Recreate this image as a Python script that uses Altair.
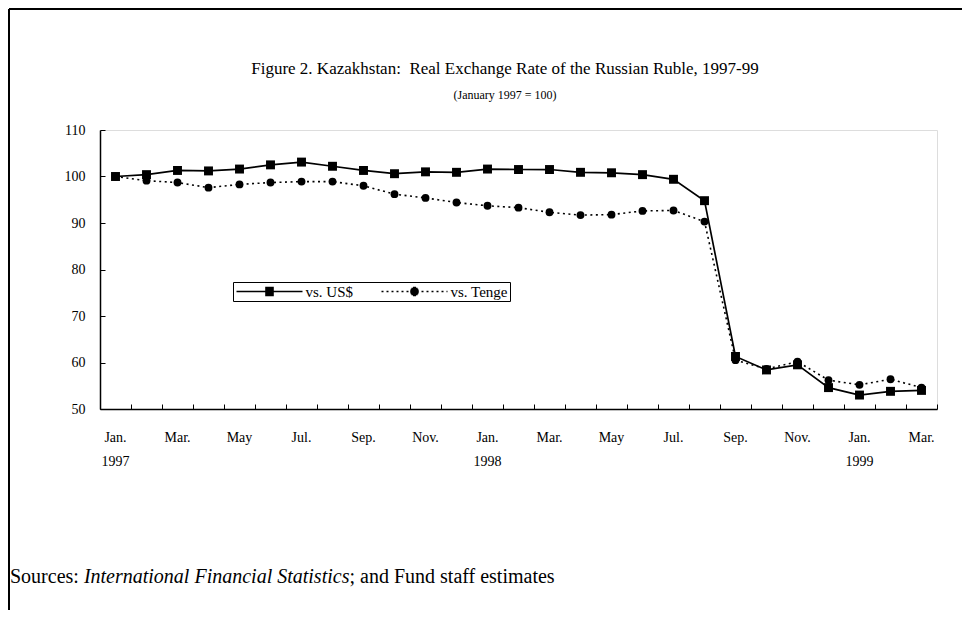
import math
import altair as alt
import pandas as pd

# ---- data ----
months = ["1997-01", "1997-02", "1997-03", "1997-04", "1997-05", "1997-06",
          "1997-07", "1997-08", "1997-09", "1997-10", "1997-11", "1997-12",
          "1998-01", "1998-02", "1998-03", "1998-04", "1998-05", "1998-06",
          "1998-07", "1998-08", "1998-09", "1998-10", "1998-11", "1998-12",
          "1999-01", "1999-02", "1999-03"]
vs_usd = [100.0, 100.4, 101.3, 101.2, 101.6, 102.5, 103.1, 102.2, 101.3, 100.6,
          101.0, 100.9, 101.6, 101.5, 101.5, 100.9, 100.8, 100.4, 99.4, 94.8,
          61.3, 58.4, 59.5, 54.6, 53.0, 53.8, 54.0]
vs_tenge = [100.0, 99.1, 98.7, 97.6, 98.3, 98.7, 98.9, 98.9, 98.0, 96.2,
            95.4, 94.4, 93.7, 93.3, 92.3, 91.7, 91.8, 92.6, 92.7, 90.3,
            60.5, 58.6, 60.2, 56.2, 55.2, 56.4, 54.6]
tick_months = ["1997-01", "1997-03", "1997-05", "1997-07", "1997-09", "1997-11",
               "1998-01", "1998-03", "1998-05", "1998-07", "1998-09", "1998-11",
               "1999-01", "1999-03"]
tick_text = ["Jan.", "Mar.", "May", "Jul.", "Sep.", "Nov.",
             "Jan.", "Mar.", "May", "Jul.", "Sep.", "Nov.",
             "Jan.", "Mar."]
year_text = {"1997-01": "1997", "1998-01": "1998", "1999-01": "1999"}
series_names = ["vs. US$", "vs. Tenge"]
y_ticks = [50, 60, 70, 80, 90, 100, 110]
title_text = "Figure 2. Kazakhstan:\u00a0 Real Exchange Rate of the Russian Ruble, 1997-99"
subtitle_text = "(January 1997 = 100)"
source_parts = ["Sources: ", "International Financial Statistics", "; and Fund staff estimates"]

df = pd.DataFrame({"month": months, "usd": vs_usd, "tenge": vs_tenge})

FONT = "Liberation Serif"
W, H = 837, 279          # plot area
PAD_L, PAD_T = 92, 122   # plot origin inside the svg (page 100,130)

# label expression: month label, plus year on a second line for January
parts = []
for m, t in zip(tick_months, tick_text):
    if m in year_text:
        parts.append(f"datum.value == '{m}' ? ['{t}', '{year_text[m]}']")
    else:
        parts.append(f"datum.value == '{m}' ? '{t}'")
label_expr = " : ".join(parts) + " : ''"

xscale = alt.Scale(type="band", domain=months, paddingInner=0, paddingOuter=0)
yscale = alt.Scale(domain=[50, 110], nice=False, zero=False)

x_main_axis = alt.Axis(title=None, labelExpr=label_expr, ticks=False, tickSize=0,
                       labelAngle=0, labelFont=FONT, labelFontSize=14,
                       labelColor="black", labelPadding=21, labelLineHeight=24,
                       labelBaseline="top", domain=True, domainColor="black",
                       domainWidth=1.5, grid=False, labelOverlap=False, orient="bottom")
y_main_axis = alt.Axis(title=None, values=y_ticks, ticks=False, tickSize=0,
                       labelFont=FONT, labelFontSize=14, labelColor="black",
                       labelPadding=15, domain=True, domainColor="black",
                       domainWidth=1.5, grid=False, orient="left")
x_tick_axis = alt.Axis(title=None, labels=False, domain=False, ticks=True,
                       tickBand="extent", tickSize=5, tickColor="black",
                       tickWidth=1, offset=-5, grid=False, orient="bottom")
y_tick_axis = alt.Axis(title=None, labels=False, domain=False, ticks=True,
                       values=y_ticks, tickSize=5, tickColor="black",
                       tickWidth=1, offset=-5, grid=False, orient="left")

base = alt.Chart(df)

usd_line = base.mark_line(color="black", strokeWidth=1.7).encode(
    x=alt.X("month:N", scale=xscale, sort=months, axis=x_main_axis),
    y=alt.Y("usd:Q", scale=yscale, axis=y_main_axis),
)
tenge_line = base.mark_line(color="black", strokeWidth=1.6, strokeDash=[2, 3.5]).encode(
    x=alt.X("month:N", scale=xscale, sort=months, axis=None),
    y=alt.Y("tenge:Q", scale=yscale, axis=None),
)
usd_pts = base.mark_point(shape="square", filled=True, color="black", size=80, opacity=1).encode(
    x=alt.X("month:N", scale=xscale, sort=months, axis=x_tick_axis),
    y=alt.Y("usd:Q", scale=yscale, axis=y_tick_axis),
)
tenge_pts = base.mark_point(shape="circle", filled=True, color="black", size=62, opacity=1).encode(
    x=alt.X("month:N", scale=xscale, sort=months, axis=None),
    y=alt.Y("tenge:Q", scale=yscale, axis=None),
)

# ---- legend symbols: line sample + marker, drawn with strokes only (px -> unit coords) ----
R = 7.0          # sqrt(symbolSize)/2
L = 66.0         # length of the line sample in px
X0 = -6.0        # line start relative to the symbol centre
MID = X0 + L / 2


def u(v):
    return f"{v / R:.3f}"


def hline(x0, x1, y):
    return f"M{u(x0)},{u(y)}H{u(x1)}"


usd_path = hline(X0, X0 + L, 0)
for yy in range(-4, 5):
    usd_path += hline(MID - 4.3, MID + 4.3, yy)

tenge_path = ""
xx = X0
while xx < X0 + L:
    tenge_path += hline(xx, min(xx + 2.0, X0 + L), 0)
    xx += 5.0
rc = 4.3
for yy in range(-4, 5):
    hw = math.sqrt(max(rc * rc - yy * yy, 0.5))
    tenge_path += hline(MID - hw, MID + hw, yy)

LBL_FS = 15
legend_layer = alt.Chart(alt.Data(values=[])).mark_point(
    filled=False, color="black", strokeWidth=1.5, opacity=1
).encode(
    x=alt.X("month:N", scale=xscale, axis=None),
    y=alt.Y("v:Q", scale=yscale, axis=None),
    shape=alt.Shape("s:N",
                    scale=alt.Scale(domain=series_names, range=[usd_path, tenge_path]),
                    legend=alt.Legend(title=None, orient="none", legendX=133, legendY=152,
                                      direction="horizontal", columns=2,
                                      symbolSize=(2 * R) ** 2, symbolStrokeWidth=1.5,
                                      symbolStrokeColor="black",
                                      labelFont=FONT, labelFontSize=LBL_FS, labelColor="black",
                                      labelOffset=int(X0 + L + 8 + 3 - 16), columnPadding=25,
                                      padding=1.5, strokeColor="black", fillColor="white",
                                      symbolOpacity=1)),
)

one = alt.Data(values=[{"a": 1}])
# outer frame of the figure (top and left edges)
frame_top = alt.Chart(one).mark_rule(color="black", strokeWidth=2).encode(
    x=alt.value(-PAD_L + 1), x2=alt.value(W + 40), y=alt.value(-PAD_T + 1))
frame_left = alt.Chart(one).mark_rule(color="black", strokeWidth=2).encode(
    x=alt.value(-PAD_L + 1), y=alt.value(-PAD_T + 1), y2=alt.value(H + 210))

# title and subtitle
title_mark = alt.Chart(one).mark_text(font=FONT, fontSize=17, align="center",
                                      baseline="alphabetic", color="black").encode(
    x=alt.value(405), y=alt.value(-56), text=alt.value(title_text))
subtitle_mark = alt.Chart(one).mark_text(font=FONT, fontSize=12, align="center",
                                         baseline="alphabetic", color="black").encode(
    x=alt.value(405), y=alt.value(-31), text=alt.value(subtitle_text))

# sources note (regular + italic + regular)
SRC_FS = 20
src_y = 447
w1 = 3.694 * SRC_FS
w2 = 13.28 * SRC_FS
src_x0 = -90
src1 = alt.Chart(one).mark_text(font=FONT, fontSize=SRC_FS, align="left", color="black").encode(
    x=alt.value(src_x0), y=alt.value(src_y), text=alt.value(source_parts[0]))
src2 = alt.Chart(one).mark_text(font=FONT, fontSize=SRC_FS, align="left", fontStyle="italic",
                                color="black").encode(
    x=alt.value(src_x0 + w1), y=alt.value(src_y), text=alt.value(source_parts[1]))
src3 = alt.Chart(one).mark_text(font=FONT, fontSize=SRC_FS, align="left", color="black").encode(
    x=alt.value(src_x0 + w1 + w2), y=alt.value(src_y), text=alt.value(source_parts[2]))

chart = alt.layer(
    usd_line, tenge_line, usd_pts, tenge_pts, legend_layer,
    frame_top, frame_left, title_mark, subtitle_mark, src1, src2, src3
).resolve_axis(x="independent", y="independent").properties(
    width=W, height=H,
    autosize=alt.AutoSizeParams(type="none"),
    padding={"left": PAD_L, "top": PAD_T, "right": 954 - PAD_L - W, "bottom": 602 - PAD_T - H},
).configure_view(stroke="black", strokeWidth=1).configure(background="white")

chart.save("out.html", embed_options={"renderer": "svg", "actions": False})
